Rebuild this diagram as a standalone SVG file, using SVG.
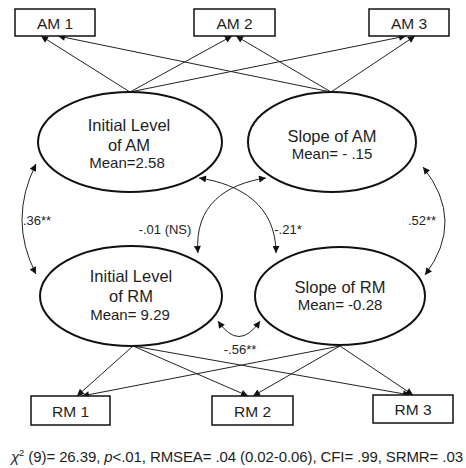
<svg xmlns="http://www.w3.org/2000/svg" width="466" height="468" viewBox="0 0 466 468">
<defs>
<marker id="ah" viewBox="0 0 10 10" refX="10" refY="5" markerWidth="9" markerHeight="7" markerUnits="userSpaceOnUse" orient="auto-start-reverse">
<path d="M0,0 L10,5 L0,10 Z" fill="#111"/>
</marker>
<style>
text{font-family:"Liberation Sans",Arial,sans-serif;fill:#1e1e1e}
.box{fill:#fff;stroke:#111;stroke-width:1.5}
.lat{fill:#fff;stroke:#111;stroke-width:2}
.bt{font-size:15.5px;text-anchor:middle}
.l1{font-size:16.5px;text-anchor:middle}
.l2{font-size:15px;text-anchor:middle}
.el{font-size:13px;text-anchor:middle}
.ln{fill:none;stroke:#222;stroke-width:1;marker-end:url(#ah)}
.cv{fill:none;stroke:#222;stroke-width:1;marker-start:url(#ah);marker-end:url(#ah)}
</style>
</defs>
<rect width="466" height="468" fill="#fff"/>
<g id="connectors">
<path class="ln" d="M130,92 L41,36"/>
<path class="ln" d="M130,92 L232,36"/>
<path class="ln" d="M130,92 L406,36"/>
<path class="ln" d="M331,92 L58,36"/>
<path class="ln" d="M331,92 L236,36"/>
<path class="ln" d="M331,92 L415,36"/>
<path class="ln" d="M133,346 L77,396"/>
<path class="ln" d="M133,346 L248,396"/>
<path class="ln" d="M133,346 L410,395"/>
<path class="ln" d="M340,346 L82,396"/>
<path class="ln" d="M340,346 L253,396"/>
<path class="ln" d="M340,346 L413,395"/>
<path class="cv" d="M36,164 Q8,220 36,274"/>
<path class="cv" d="M423,167 Q466,221 425,275"/>
<path class="cv" d="M218,321 Q239,352 260,321"/>
<path class="cv" d="M199,178 C240,184 276,205 276,253"/>
<path class="cv" d="M266,178 C226,184 194,205 198,253"/>
<text class="el" x="37" y="225">.36**</text>
<text class="el" x="422" y="225">.52**</text>
<text class="el" x="165" y="234">-.01 (NS)</text>
<text class="el" x="288" y="234">-.21*</text>
<text class="el" x="240" y="354">-.56**</text>
</g>
<g id="am1"><rect class="box" x="15" y="9" width="80" height="27"/><text class="bt" x="55" y="29">AM 1</text></g>
<g id="am2"><rect class="box" x="194" y="9" width="81" height="27"/><text class="bt" x="234.5" y="29">AM 2</text></g>
<g id="am3"><rect class="box" x="369" y="9" width="80" height="27"/><text class="bt" x="409" y="29">AM 3</text></g>
<g id="initAM"><ellipse class="lat" cx="130" cy="142" rx="92" ry="50"/><text class="l1" x="129" y="131">Initial Level</text><text class="l1" x="129" y="151">of AM</text><text class="l2" x="127" y="168">Mean=2.58</text></g>
<g id="slopeAM"><ellipse class="lat" cx="332" cy="142" rx="84" ry="50"/><text class="l1" x="332" y="142">Slope of AM</text><text class="l2" x="332" y="159">Mean= - .15</text></g>
<g id="initRM"><ellipse class="lat" cx="131" cy="296" rx="91" ry="50"/><text class="l1" x="131" y="282">Initial Level</text><text class="l1" x="131" y="302">of RM</text><text class="l2" x="130" y="320">Mean= 9.29</text></g>
<g id="slopeRM"><ellipse class="lat" cx="340" cy="296" rx="85" ry="49"/><text class="l1" x="340" y="293">Slope of RM</text><text class="l2" x="340" y="310">Mean= -0.28</text></g>
<g id="rm1"><rect class="box" x="31" y="396" width="79" height="29"/><text class="bt" x="70.5" y="417">RM 1</text></g>
<g id="rm2"><rect class="box" x="212" y="396" width="81" height="29"/><text class="bt" x="252.5" y="417">RM 2</text></g>
<g id="rm3"><rect class="box" x="373" y="395" width="80" height="28"/><text class="bt" x="413" y="415">RM 3</text></g>
<text x="11" y="462" font-size="15" textLength="452" lengthAdjust="spacing"><tspan font-style="italic">χ</tspan><tspan font-size="9.5" dy="-6">2</tspan><tspan dy="6"> (9)= 26.39, </tspan><tspan font-style="italic">p</tspan><tspan>&lt;.01, RMSEA= .04 (0.02-0.06), CFI= .99, SRMR= .03</tspan></text>
</svg>
